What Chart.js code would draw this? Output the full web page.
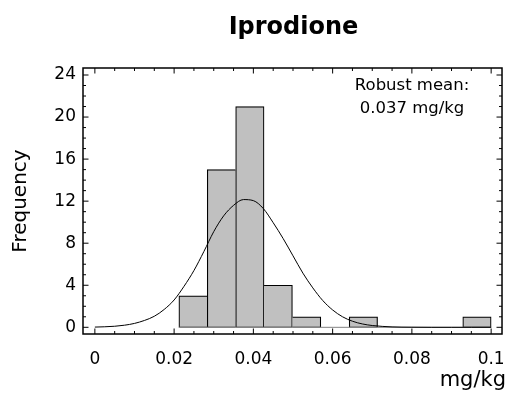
<!DOCTYPE html>
<html><head><meta charset="utf-8">
<script src="https://cdn.jsdelivr.net/npm/chart.js@4.4.1/dist/chart.umd.min.js"></script>
<style>html,body{margin:0;padding:0;background:#fff}#wrap{width:520px;height:403px}</style>
</head><body><div id="wrap"><canvas id="c" width="520" height="403"></canvas></div>
<script>
// ---- data ----
const binCenters = [0.02478, 0.03194, 0.03911, 0.04627, 0.05344, 0.0606, 0.06776, 0.07493, 0.08209, 0.08926, 0.09642];
const binCounts  = [3, 15, 21, 4, 1, 0, 1, 0, 0, 0, 1];
const binRange   = [0.0212, 0.1];
const curveX = [0, 0.0025, 0.005, 0.0075, 0.01, 0.0125, 0.015, 0.0175, 0.02, 0.0225, 0.025, 0.0275, 0.03, 0.0325, 0.035, 0.0375, 0.04, 0.0425, 0.045, 0.0475, 0.05, 0.0525, 0.055, 0.0575, 0.06, 0.0625, 0.065, 0.0675, 0.07, 0.075, 0.08, 0.085, 0.09, 0.095, 0.1];
const curveY = [0.02, 0.05, 0.1, 0.2, 0.37, 0.65, 1.05, 1.7, 2.6, 3.9, 5.4, 7.2, 9.1, 10.6, 11.6, 12.15, 12.05, 11.3, 9.95, 8.45, 6.8, 5.15, 3.75, 2.55, 1.65, 1.0, 0.58, 0.32, 0.17, 0.04, 0.01, 0, 0, 0, 0];
const xTickValues = [0, 0.02, 0.04, 0.06, 0.08, 0.1];
const xTickLabels = ['0', '0.02', '0.04', '0.06', '0.08', '0.1'];
const yTickValues = [0, 4, 8, 12, 16, 20, 24];
const yTickLabels = ['0', '4', '8', '12', '16', '20', '24'];
const titleText = 'Iprodione';
const noteLines = ['Robust mean:', '0.037 mg/kg'];
const xTitle = 'mg/kg';
const yTitle = 'Frequency';

const FONT = '"DejaVu Sans", sans-serif';

function barBorder(ctx) {
  const i = ctx.dataIndex;
  const c = binCounts[i];
  if (!c) return 0;
  const prev = i > 0 ? binCounts[i - 1] : 0;
  const next = i < binCounts.length - 1 ? binCounts[i + 1] : 0;
  return { left: prev <= c ? 1.2 : 0, right: next < c ? 1.2 : 0, top: 1.2, bottom: 1 };
}

const framePlugin = {
  id: 'frame',
  afterDatasetsDraw(chart) {
    const { ctx, chartArea: a, scales: { x, y } } = chart;
    ctx.save();
    ctx.strokeStyle = '#000';
    ctx.lineWidth = 1;
    ctx.beginPath();
    const MAJ = 5.5, MIN = 3;
    for (let i = 0; i <= 20; i++) {
      const px = x.getPixelForValue(i * 0.005);
      const L = (i % 4 === 0) ? MAJ : MIN;
      ctx.moveTo(px, a.bottom); ctx.lineTo(px, a.bottom - L);
      ctx.moveTo(px, a.top); ctx.lineTo(px, a.top + L);
    }
    for (let v = 0; v <= 24; v++) {
      const py = y.getPixelForValue(v);
      const L = (v % 4 === 0) ? MAJ : MIN;
      ctx.moveTo(a.left, py); ctx.lineTo(a.left + L, py);
      ctx.moveTo(a.right, py); ctx.lineTo(a.right - L, py);
    }
    ctx.stroke();
    ctx.lineWidth = 1.5;
    ctx.strokeRect(a.left, a.top, a.right - a.left, a.bottom - a.top);

    ctx.fillStyle = '#000';
    ctx.textAlign = 'center';
    ctx.textBaseline = 'alphabetic';
    ctx.font = 'bold 24px ' + FONT;
    ctx.fillText(titleText, (a.left + a.right) / 2 + 1, 34);
    ctx.font = '16.5px ' + FONT;
    ctx.fillText(noteLines[0], a.right - 90, a.top + 22);
    ctx.fillText(noteLines[1], a.right - 90, a.top + 45);
    ctx.textAlign = 'right';
    ctx.font = '21px ' + FONT;
    ctx.fillText(xTitle, a.right + 4, 386);
    ctx.restore();
  }
};

new Chart(document.getElementById('c'), {
  type: 'bar',
  data: {
    datasets: [
      {
        type: 'line',
        data: curveX.map((v, i) => ({ x: v, y: curveY[i] })),
        borderColor: '#000', borderWidth: 1, pointRadius: 0,
        cubicInterpolationMode: 'monotone', fill: false, order: 0
      },
      {
        type: 'line',
        data: binRange.map(v => ({ x: v, y: 0 })),
        borderColor: '#8a8a8a', borderWidth: 1, pointRadius: 0, fill: false, order: 1
      },
      {
        type: 'bar',
        data: binCenters.map((v, i) => ({ x: v, y: binCounts[i] })),
        backgroundColor: '#c0c0c0', borderColor: '#000',
        borderWidth: barBorder, borderSkipped: false,
        barPercentage: 1, categoryPercentage: 1, grouped: false, order: 2
      }
    ]
  },
  options: {
    responsive: false, animation: false, devicePixelRatio: 1,
    layout: { padding: { left: 0, right: 13, top: 68, bottom: 0 } },
    plugins: { legend: { display: false }, tooltip: { enabled: false }, title: { display: false } },
    scales: {
      x: {
        type: 'linear', offset: false, min: -0.002993, max: 0.102743,
        grid: { display: false, drawTicks: false }, border: { display: false },
        afterFit: s => { s.height = 69; },
        afterBuildTicks: s => { s.ticks = xTickValues.map(v => ({ value: v })); },
        ticks: {
          autoSkip: false, maxRotation: 0, padding: 15, color: '#000',
          font: { family: FONT, size: 17 },
          callback: (v, i) => xTickLabels[i]
        }
      },
      y: {
        type: 'linear', min: -0.637, max: 24.666,
        grid: { display: false, drawTicks: false }, border: { display: false },
        afterFit: s => { s.width = 83; },
        afterBuildTicks: s => { s.ticks = yTickValues.map(v => ({ value: v })); },
        ticks: {
          autoSkip: false, padding: 7, color: '#000',
          font: { family: FONT, size: 17 },
          callback: (v, i) => yTickLabels[i]
        },
        title: { display: true, text: yTitle, color: '#000',
          font: { family: FONT, size: 20 }, padding: { top: 9, bottom: 0 } }
      }
    }
  },
  plugins: [framePlugin]
});
</script>
</body></html>
